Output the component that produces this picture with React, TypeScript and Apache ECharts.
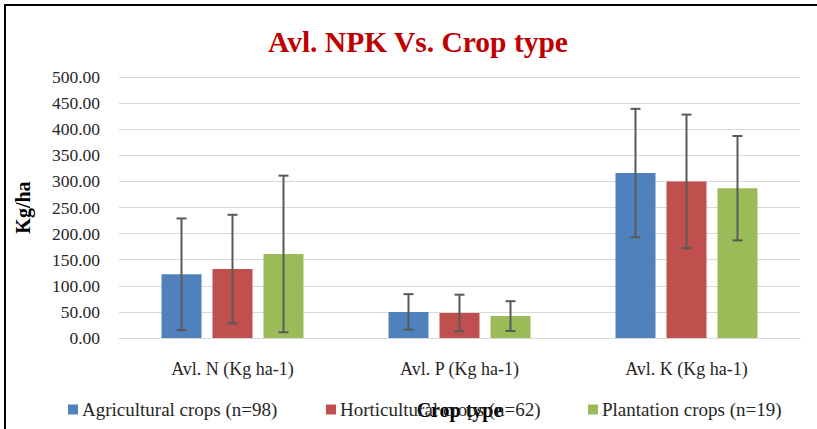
import React, { useEffect, useRef } from "react";
import * as echarts from "echarts";

const categories = ["Avl. N (Kg ha-1)", "Avl. P (Kg ha-1)", "Avl. K (Kg ha-1)"];
const seriesNames = ["Agricultural crops (n=98)", "Horticultural crops (n=62)", "Plantation crops (n=19)"];
const agriMean = [122, 50, 316];
const agriSd = [107, 34, 123];
const hortiMean = [132, 48, 300];
const hortiSd = [104, 35, 128];
const plantMean = [161, 42, 287];
const plantSd = [150, 28.5, 100];
const yTicks = { min: 0, max: 500, interval: 50 };

const colors = ["#4F81BD", "#C0504D", "#9BBB59"];
const legendLeft = [68, 326, 588];
const FONT = "Liberation Serif";
const BAR_W = 40;
const BAR_GAP = 11;

export default function App() {
  const ref = useRef<HTMLDivElement>(null);
  useEffect(() => {
    document.body.style.margin = "0";
    const chart = echarts.init(ref.current!, null, { renderer: "svg" });
    const means = [agriMean, hortiMean, plantMean];
    const sds = [agriSd, hortiSd, plantSd];
    const barSeries = means.map((m, i) => ({
      name: seriesNames[i],
      type: "bar",
      data: m,
      barWidth: BAR_W,
      barGap: (BAR_GAP / BAR_W) * 100 + "%",
      itemStyle: { color: colors[i] },
      z: 2,
    }));
    const errSeries = means.map((m, i) => ({
      name: "err" + i,
      type: "custom",
      z: 5,
      data: m.map((v, k) => [k, v, sds[i][k]]),
      renderItem: (params: any, api: any) => {
        const c = api.value(0);
        const mv = api.value(1);
        const sv = api.value(2);
        const off = (i - 1) * (BAR_W + BAR_GAP);
        const top = api.coord([c, mv + sv]);
        const bot = api.coord([c, Math.max(0, mv - sv)]);
        const x = top[0] + off;
        const st = { stroke: "#595959", lineWidth: 2 };
        return {
          type: "group",
          children: [
            { type: "line", shape: { x1: x, y1: top[1], x2: x, y2: bot[1] }, style: st },
            { type: "line", shape: { x1: x - 5, y1: top[1], x2: x + 5, y2: top[1] }, style: st },
            { type: "line", shape: { x1: x - 5, y1: bot[1], x2: x + 5, y2: bot[1] }, style: st },
          ],
        };
      },
    }));
    const legends = seriesNames.map((n, i) => ({
      data: [n],
      left: legendLeft[i],
      top: 400,
      padding: 0,
      itemWidth: 10,
      itemHeight: 10,
      itemGap: 4,
      icon: "rect",
      textStyle: { fontFamily: FONT, fontSize: 19, color: "#262626", padding: [0, 0, 0, -1] },
    }));
    chart.setOption({
      animation: false,
      textStyle: { fontFamily: FONT },
      title: {
        text: "Avl. NPK Vs. Crop type",
        left: 413,
        textAlign: "center",
        top: 22,
        textStyle: { fontFamily: FONT, fontWeight: "bold", fontSize: 29.5, color: "#C00000" },
      },
      grid: { left: 119, right: 17, top: 77, bottom: 91, containLabel: false },
      legend: legends,
      xAxis: {
        type: "category",
        data: categories,
        name: "Crop type",
        nameLocation: "middle",
        nameGap: 62,
        nameTextStyle: { fontFamily: FONT, fontWeight: "bold", fontSize: 20, color: "#000" },
        axisLine: { show: true, lineStyle: { color: "#D9D9D9", width: 1 } },
        axisTick: { show: false },
        axisLabel: { fontFamily: FONT, fontSize: 18, color: "#262626", margin: 22 },
      },
      yAxis: {
        type: "value",
        min: yTicks.min,
        max: yTicks.max,
        interval: yTicks.interval,
        name: "Kg/ha",
        nameLocation: "middle",
        nameGap: 86,
        nameRotate: 90,
        nameTextStyle: { fontFamily: FONT, fontWeight: "bold", fontSize: 20, color: "#000" },
        axisLine: { show: false },
        axisTick: { show: false },
        axisLabel: {
          fontFamily: FONT,
          fontSize: 17.5,
          color: "#262626",
          margin: 19,
          formatter: (v: number) => v.toFixed(2),
        },
        splitLine: { lineStyle: { color: "#D9D9D9", width: 1 } },
      },
      graphic: [
        { type: "line", shape: { x1: 5, y1: 5, x2: 5, y2: 429 }, style: { stroke: "#000", lineWidth: 2 } },
        { type: "line", shape: { x1: 4, y1: 5, x2: 817, y2: 5 }, style: { stroke: "#000", lineWidth: 2 } },
      ],
      series: [...barSeries, ...errSeries],
    });
    return () => chart.dispose();
  }, []);
  return <div ref={ref} style={{ width: 817, height: 429 }} />;
}
